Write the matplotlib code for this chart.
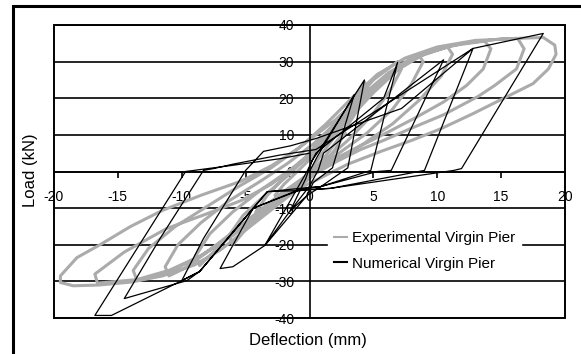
import matplotlib
matplotlib.use("Agg")
import matplotlib.pyplot as plt
from matplotlib.patches import Rectangle

plt.rcParams["font.family"] = ["Liberation Sans", "DejaVu Sans"]
plt.rcParams["axes.unicode_minus"] = False

# Experimental virgin pier: cyclic load-deflection record (mm, kN)
exp_defl = [
    0, 1, 2.5, 2.8, 2, 0.8, 0, -1.2, -2.5,
    -2.7, -2, -0.8, 0.5, 1.8, 3, 4.3, 4.6, 3.8, 2.5, 1.2, 0, -1.5, -2.8, -4,
    -4.2, -3.3, -1.8, -0.3, 1.5, 3.2, 5, 6.9, 7.2, 6.3, 4.8, 3, 1.2, 0, -1.8, -3.5, -4.8, -6,
    -6.3, -5.2, -3.5, -1.5, 0.3, 2.2, 4, 5.8, 7.3, 8.5, 8.9, 8, 6.5, 4.5, 2.3, 0.5, -1.2, -3.2, -5, -6.8, -8.6,
    -8.9, -7.8, -6, -3.8, -1.5, 0.5, 2.5, 4.3, 6.2, 8.2, 10.8, 11.2, 10.3, 8.6, 6.5, 4.2, 2, 0, -2, -4, -6, -8, -9.8, -11,
    -11.3, -10.3, -8.5, -6.3, -4, -1.8, 0.3, 2.3, 4.2, 6.2, 8.5, 11, 13.7, 14.2, 13.6, 12.3, 10.5, 8.2, 6, 4, 2, 0, -2, -4, -6, -8.5, -11, -13.5,
    -13.8, -12.6, -10.5, -8, -5.5, -3, -0.8, 1.3, 3.3, 5.3, 7.5, 10, 13, 16.3, 16.8, 16.2, 14.5, 13.2, 10.5, 7.9, 5.8, 4, 2, 0, -2, -4, -6, -8.5, -11, -13.5, -16.6,
    -16.8, -14.5, -11.2, -8, -5.4, -3, -1, 1, 3, 5, 7, 9.2, 12, 15, 18.3, 19.2, 19.3, 18.7, 17.5, 15.2, 12.8, 10.3, 8, 5.6, 3, 1, -1, -3, -5, -7, -9, -11.5, -14, -16.5, -18.5, -19.5, -19.5,
    -18.2, -16.4, -14, -11.5, -8.5, -5.4, -3, -1, 0.5, 2, 3.5,
]
exp_load = [
    0, 5, 12, 10.5, 6, 1, -2, -5, -8,
    -6.5, -3.5, 0.5, 5, 11, 17.5, 24.5, 22.5, 17, 10, 4, -1, -5, -9, -13,
    -11, -6.5, -1, 4, 11, 18, 25, 30, 28, 22, 15, 8.5, 3, -1.5, -6, -10.5, -15, -20,
    -17.5, -12, -6.5, -0.5, 5.5, 12.5, 19, 25, 29.5, 32, 30, 24, 17, 10.5, 5, 0.5, -4, -9, -14, -19.5, -25.7,
    -23, -17, -11, -5, 0.5, 6, 13, 20, 26, 31, 34, 32, 26, 19.5, 13, 7.5, 3, -1, -5.5, -11, -16.5, -22, -26.5, -28.5,
    -26, -20, -14, -8, -3, 2, 7.5, 14, 21, 27, 31.5, 34.3, 35.6, 33.5, 28, 23.5, 19, 14.5, 10.5, 7, 3.5, -0.5, -5.5, -11, -17, -23, -27.5, -29.8,
    -27, -21, -15, -9.5, -4, 1, 6.5, 13, 20, 26.5, 31, 34, 35.8, 36.3, 33.5, 28, 23.5, 20.5, 15.5, 11.7, 8.5, 6, 2.5, -1.5, -6, -12, -17.5, -23, -27, -29.5, -30.5,
    -28, -22, -15.6, -11.5, -8, -3.5, 1.5, 7, 14, 21.5, 28, 32.5, 35, 36.2, 36.6, 34.5, 32, 28, 24, 20, 15.8, 11.7, 8.5, 5.5, 2, -1.5, -5, -10.5, -16, -21.5, -25.5, -28.5, -30.2, -31, -31.2, -30.3, -28.5,
    -23.5, -20, -15, -10.6, -6.5, -2.7, 1.5, 6, 10, 14, 19,
]

# Numerical virgin pier: piecewise-linear model response (mm, kN)
num_defl = [
    0, 0.6, 3.5,
    1.8, 0.3, -0.2, -1.5,
    -0.3, 0.2, 1, 4.3,
    3, 0.9, -0.2, -3.5,
    -0.2, 0.5, 5.8, 6.9,
    4.8, 0.9, -0.7, -3.3, -4.4, -7,
    -6, -3.5, -1.5, 0, 0.7, 1.1, 5.6, 10.5,
    6.4, 5.3, 0.9, -0.7, -4.4, -8.6, -10,
    -8.3, -5, -3.6, -1.5, 0.5, 7.2, 12.8,
    9, 1.65, -0.7, -4.4, -8.6, -9.6, -14.5,
    -11.7, -8.3, -7.5, -6, -2.3, 0.5, 12.8, 18.3,
    11.9, 11.3, 1.65, -0.7, -3.3, -4.4, -8.6, -10, -15.5, -16.8,
    -9.7, -6.2, -2.3, 0,
]
num_load = [
    0, 4, 21,
    1, -3, -6.6, -10.7,
    -2, 3, 7, 25,
    1, -4.1, -6.6, -20.2,
    0, 5, 20, 29.8,
    0.3, -4.1, -4.6, -5.5, -10, -26.5,
    -26, -20.2, -10.7, -4, 0.5, 5, 17.2, 30.5,
    0.3, 0, -4.1, -4.8, -10, -27.3, -29.8,
    -18.3, 0.3, 5.5, 7, 9, 17.2, 33.6,
    0.3, -4.6, -5, -10, -27.3, -29.8, -34.7,
    -18.3, 0.3, 0.8, 2, 4.5, 6, 33.6, 37.7,
    0.8, 0.3, -4.6, -5.2, -5.5, -10, -27.3, -29.8, -39.3, -39.3,
    0, 1.6, 3.5, 5,
]

x_ticks = [-20, -15, -10, -5, 0, 5, 10, 15, 20]
y_ticks = [-40, -30, -20, -10, 0, 10, 20, 30, 40]

W, H = 581, 354
fig = plt.figure(figsize=(W / 100, H / 100), dpi=100)

# chart-area frame
fig.patches.append(Rectangle((13 / W, -0.1), 1.2, 1 - 6 / H + 0.1,
                             transform=fig.transFigure, fill=False,
                             edgecolor="black", linewidth=2.2, zorder=0))

ax = fig.add_axes([54 / W, 1 - 318 / H, (565 - 54) / W, (318 - 25) / H])
ax.set_xlim(-20, 20)
ax.set_ylim(-40, 40)
ax.set_axisbelow(True)

for s in ("top", "right"):
    ax.spines[s].set_visible(False)
ax.spines["left"].set_position(("data", 0))
ax.spines["bottom"].set_position(("data", 0))
ax.spines["left"].set_linewidth(1.2)
ax.spines["bottom"].set_linewidth(1.2)

# plot-area border and horizontal gridlines
ax.add_patch(Rectangle((0, 0), 1, 1, transform=ax.transAxes, fill=False,
                       edgecolor="black", linewidth=1.4, zorder=1, clip_on=False))
for yv in y_ticks:
    ax.axhline(yv, color="black", linewidth=1.2, zorder=1)

ax.set_xticks(x_ticks)
ax.set_xticklabels([str(v) for v in x_ticks])
ax.set_yticks(y_ticks)
ax.set_yticklabels([str(v) for v in y_ticks])
ax.tick_params(axis="x", direction="out", length=4, width=1.2, pad=9, labelsize=10)
ax.tick_params(axis="y", length=0, pad=11, labelsize=10)

ax.plot(exp_defl, exp_load, color="#ababab", linewidth=2.2, zorder=2,
        label="Experimental Virgin Pier", solid_joinstyle="round")
ax.plot(num_defl, num_load, color="black", linewidth=0.9, zorder=3,
        label="Numerical Virgin Pier")

leg = ax.legend(loc="center", bbox_to_anchor=(0.725, 0.229), fontsize=11,
                frameon=True, fancybox=False, framealpha=1, facecolor="white",
                edgecolor="white", handlelength=0.9, handletextpad=0.3,
                labelspacing=0.75, borderpad=0.4)
for ln in leg.get_lines():
    ln.set_linewidth(1.5)
leg.set_zorder(5)

fig.text(30 / W, 1 - 170 / H, "Load (kN)", rotation=90, ha="center", va="center", fontsize=12)
fig.text(308 / W, 1 - 340 / H, "Deflection (mm)", ha="center", va="center", fontsize=12)

fig.savefig("out.png", dpi=100)
